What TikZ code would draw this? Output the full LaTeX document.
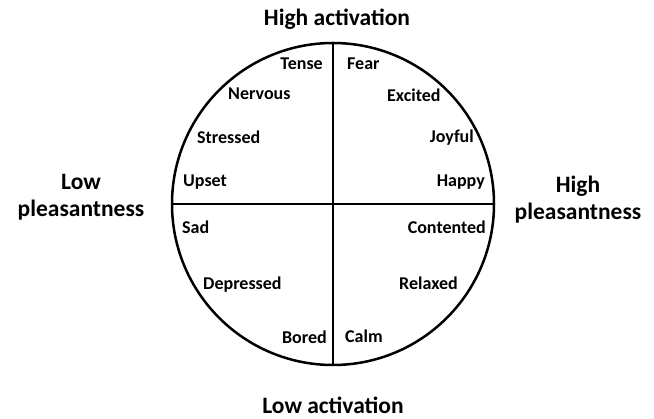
\documentclass[tikz,border=0pt]{standalone}
\usepackage{fontspec}
\setmainfont{Carlito}
\usetikzlibrary{positioning}

\begin{document}
\begin{tikzpicture}[
    x=1pt, y=-1pt,
    every node/.style={
        inner sep=0pt,
        font=\bfseries\fontsize{18}{22}\selectfont
    },
    axis/.style={
        font=\bfseries\fontsize{23.5}{27.7}\selectfont,
        align=center
    },
    rim/.style={line width=2.5pt}
]
\useasboundingbox (0,0) rectangle (654,419);
\coordinate (O) at (333,204);
\draw[rim] (O) circle[radius=161pt];
\draw[rim] ([xshift=-161pt]O) -- ([xshift=161pt]O);
\draw[rim] ([yshift=161pt]O) -- ([yshift=-161pt]O);
% axis labels
\node[axis, anchor=base] (hiact) at (337,26) {High activation};
\node[axis, anchor=base] (loact) at (333,414) {Low activation};
\node[axis, anchor=base] (lopl) at (81,217) {Low\\pleasantness};
\node[axis, anchor=base] (hipl) at (578,220) {High\\pleasantness};
% moods
\foreach \mood/\x/\y/\side in {
    Tense/323/70/east, Nervous/228/100/west, Stressed/197/144/west,
    Upset/183/187/west, Sad/182/234/west, Depressed/203/290/west,
    Bored/327/344/east, Fear/347/70/west, Excited/387/102/west,
    Joyful/474/143/east, Happy/485/187/east, Contented/486/234/east,
    Relaxed/458/290/east, Calm/345/343/west}
  \node[anchor=base \side] (\mood) at (\x,\y) {\mood};
\end{tikzpicture}
\end{document}
